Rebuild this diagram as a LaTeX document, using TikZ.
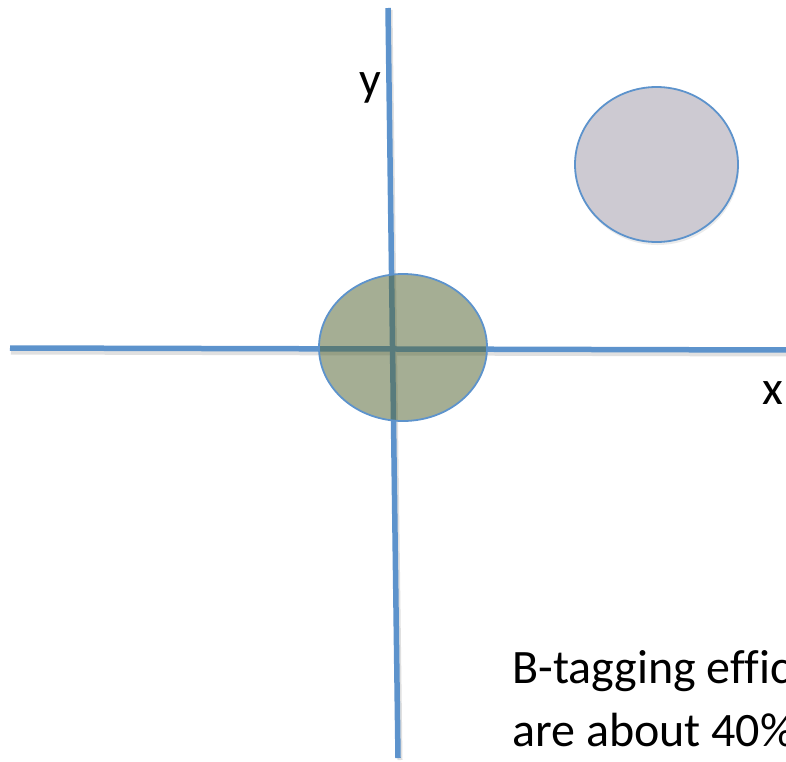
\documentclass[tikz,border=0pt]{standalone}
\usepackage{fontspec}
\setmainfont[Ligatures=NoCommon]{Carlito}
\usetikzlibrary{shapes.geometric}
\definecolor{axisblue}{HTML}{5D93CC}
\definecolor{olivefill}{HTML}{556635}
\definecolor{greyfill}{HTML}{CDCAD2}
\tikzset{
  axisline/.style={draw=axisblue, line width=5.5pt},
  axisshadow/.style={draw=black!12, line width=5pt},
  blob/.style={draw=axisblue, line width=1.8pt, inner sep=0pt},
  lbl/.style={font=\fontsize{48}{63}\selectfont, text=black, inner sep=0pt}
}
\begin{document}
\begin{tikzpicture}[x=1pt,y=-1pt]
\useasboundingbox (0,0) rectangle (786,761);
\clip (0,0) rectangle (786,761);
\node[ellipse, fill=black!8, minimum width=163, minimum height=155, inner sep=0pt] (circshadow) at (657.5,167.5) {};
\node[blob, ellipse, fill=greyfill, minimum width=163, minimum height=155] (circ) at (656.5,164.5) {};
\coordinate (ytop) at (388,8);
\coordinate (ybot) at (398,758);
\coordinate (xl) at (10,348);
\coordinate (xr) at (790,350);
\draw[axisshadow] ([shift={(2,2)}]ytop) -- ([shift={(2,2)}]ybot);
\draw[axisshadow] ([shift={(1,4)}]xl) -- ([shift={(1,4)}]xr);
\draw[axisline] (ytop) -- (ybot);
\draw[axisline] (xl) -- (xr);
\node[blob, ellipse, fill=olivefill, fill opacity=0.53, minimum width=168, minimum height=147] (ell) at (403,347.5) {};
\node[lbl, anchor=base] (ylab) at (370,95) {y};
\node[lbl, anchor=base] (xlab) at (772.5,404) {x};
\node[lbl, anchor=base west] (t1) at (512,683) {B-tagging effic};
\node[lbl, anchor=base west] (t2) at (512,746) {are about 40\%};
\end{tikzpicture}
\end{document}
